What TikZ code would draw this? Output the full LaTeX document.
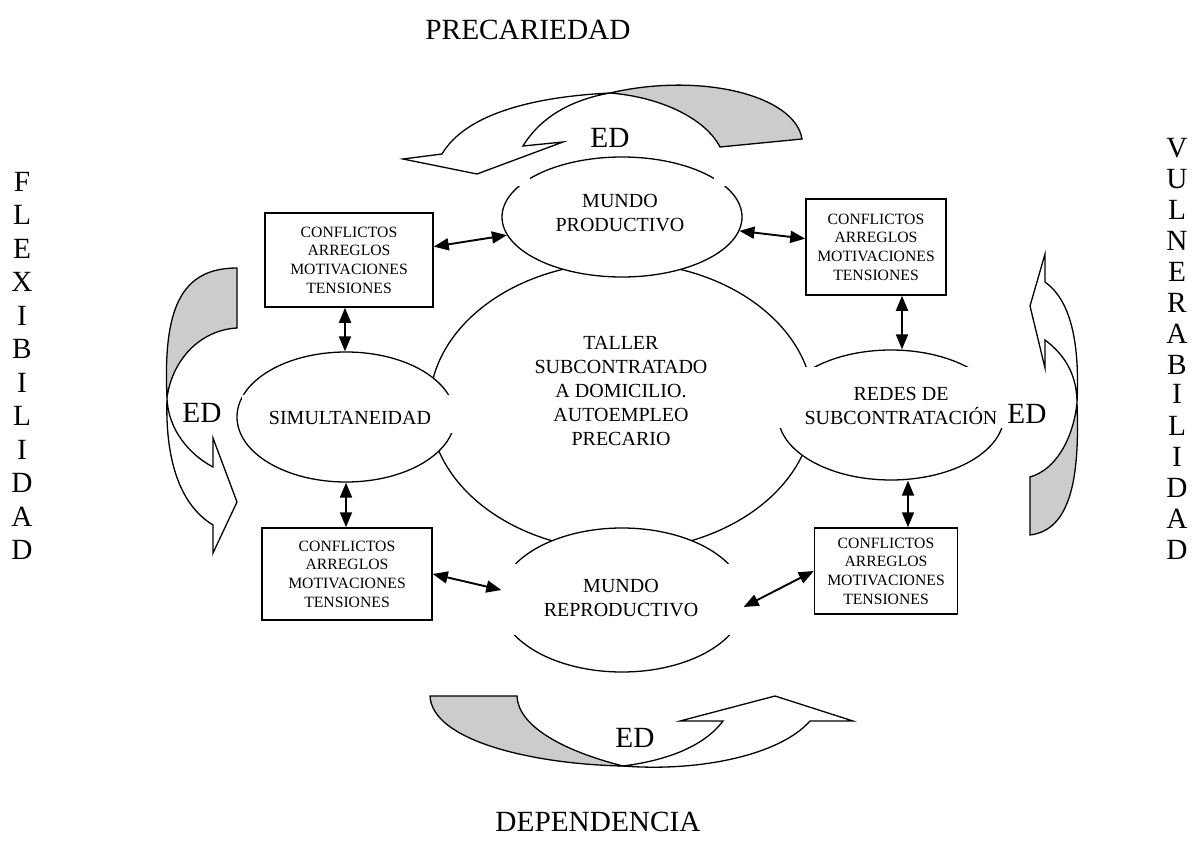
\documentclass[tikz,border=0pt]{standalone}
\usepackage{fontspec}
\setmainfont{Liberation Serif}
\usetikzlibrary{shapes.geometric,arrows.meta}
\begin{document}
\begin{tikzpicture}[x=1pt,y=-1pt,
  ell/.style={ellipse, draw, fill=white, line width=1.3pt, inner sep=0pt},
  bx/.style={rectangle, draw, fill=white, line width=1.5pt, align=center, inner sep=0pt, font=\fontsize{15.7}{18.7}\selectfont},
  txt/.style={align=center, font=\fontsize{20}{24}\selectfont, inner sep=0pt},
  big/.style={align=center, font=\fontsize{29.3}{33.5}\selectfont, inner sep=0pt},
  dbl/.style={{Triangle[length=15pt,width=12pt]}-{Triangle[length=15pt,width=12pt]}, line width=1.9pt},
  band/.style={draw, line width=1.3pt, fill=white, line join=miter},
  bandshade/.style={band, fill=black!20}]
\useasboundingbox (0,0) rectangle (1192,856);
\fill[white] (0,0) rectangle (1192,856);

% ellipses
\node[ell, minimum width=384pt, minimum height=288pt] (taller) at (621.5,406.5) {};
\node[ell, minimum width=240pt, minimum height=120pt] (mp) at (622,217) {};
\node[ell, minimum width=246pt, minimum height=144pt] (mr) at (622,600) {};
\node[ell, minimum width=218pt, minimum height=130pt] (sim) at (346,417) {};
\node[ell, minimum width=226pt, minimum height=130pt] (redes) at (891,415) {};

% white text-box gaps
\fill[white] (490,564) rectangle (755,635);
\fill[white] (242,395) rectangle (470,433);
\fill[white] (767,367) rectangle (1023,428);
\fill[white] (517,177) rectangle (530,186);
\fill[white] (714,177) rectangle (727,186);

% texts
\node[txt] (tallert) at (621,391) {TALLER\\SUBCONTRATADO\\A DOMICILIO.\\AUTOEMPLEO\\PRECARIO};
\node[txt] (mpt) at (620,213) {MUNDO\\PRODUCTIVO};
\node[txt] (mrt) at (621,598) {MUNDO\\REPRODUCTIVO};
\node[txt] (simt) at (350,418) {SIMULTANEIDAD};
\node[txt] (redest) at (901,406) {REDES DE\\SUBCONTRATACIÓN};

% boxes
\node[bx, minimum width=168pt, minimum height=94pt] (b1) at (349,260) {CONFLICTOS\\ARREGLOS\\MOTIVACIONES\\TENSIONES};
\node[bx, minimum width=140pt, minimum height=96pt] (b2) at (876,247) {CONFLICTOS\\ARREGLOS\\MOTIVACIONES\\TENSIONES};
\node[bx, minimum width=170pt, minimum height=92pt] (b3) at (347,574) {CONFLICTOS\\ARREGLOS\\MOTIVACIONES\\TENSIONES};
\node[bx, minimum width=143pt, minimum height=86pt] (b4) at (886,571) {CONFLICTOS\\ARREGLOS\\MOTIVACIONES\\TENSIONES};

% connectors
\draw[dbl] (b1) -- (mp);
\draw[dbl] (mp) -- (b2);
\draw[dbl] ([xshift=-4pt]b1.south) -- ([xshift=-4pt]b1.south |- sim.north);
\draw[dbl] ([xshift=26pt]b2.south) -- ([xshift=26pt]b2.south |- redes.north);
\draw[dbl] ([xshift=-1pt]b3.north) -- ([xshift=-1pt]b3.north |- sim.south);
\draw[dbl] ([xshift=22pt]b4.north) -- ([xshift=22pt]b4.north |- redes.south);
\draw[dbl] (b3.east) -- ([shift={(3,-10)}]mr.west);
\draw[dbl] (b4.west) -- ([shift={(-2,7)}]mr.east);

% curved block arrows
% top
\path[bandshade] (610,93) .. controls (700,72) and (795,95) .. (802,139) -- (720,147) .. controls (705,118) and (660,97) .. cycle;
\path[band] (610,93) .. controls (530,97) and (465,115) .. (442,154) -- (403,159) -- (477,174) -- (563,142) -- (523,146) .. controls (540,118) and (570,100) .. cycle;
% left
\path[bandshade] (167,398) .. controls (163,310) and (180,268) .. (237,268) -- (237,328) .. controls (200,330) and (172,360) .. cycle;
\path[band] (167,398) .. controls (165,460) and (180,505) .. (213,525) -- (213,553) -- (237,502) -- (213,438) -- (213,467) .. controls (190,455) and (168,430) .. cycle;
% right
\path[band] (1077,403) .. controls (1080,340) and (1070,300) .. (1045,282) -- (1045,254) -- (1030,306) -- (1045,368) -- (1045,340) .. controls (1065,355) and (1077,375) .. cycle;
\path[bandshade] (1077,403) .. controls (1080,480) and (1070,530) .. (1030,535) -- (1030,477) .. controls (1055,470) and (1073,440) .. cycle;
% bottom
\path[bandshade] (430,696) -- (517,696) .. controls (518,725) and (560,750) .. (623,766) .. controls (530,764) and (432,740) .. cycle;
\path[band] (623,766) .. controls (700,772) and (780,755) .. (810,721) -- (853,721) -- (775,696) -- (680,721) -- (723,721) .. controls (705,745) and (670,760) .. cycle;

% ED labels
\node[big] (ed1) at (610,138) {ED};
\node[big] (ed2) at (202,413) {ED};
\node[big] (ed3) at (1027,414) {ED};
\node[big] (ed4) at (635,738) {ED};

% outer labels
\node[big] (prec) at (528,30) {PRECARIEDAD};
\node[big] (dep) at (598,822) {DEPENDENCIA};
\node[big] (flex) at (22,366) {F\\L\\E\\X\\I\\B\\I\\L\\I\\D\\A\\D};
\node[big, font=\fontsize{29.3}{30.9}\selectfont] (vuln) at (1177,349) {V\\U\\L\\N\\E\\R\\A\\B\\[-1pt]I\\[1pt]L\\I\\D\\A\\D};
\end{tikzpicture}
\end{document}
